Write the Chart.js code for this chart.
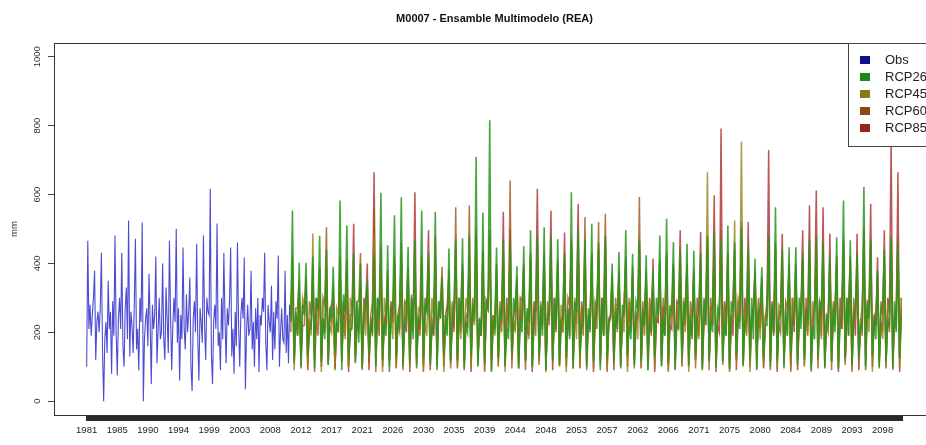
<!DOCTYPE html>
<html>
<head>
<meta charset="utf-8">
<title>M0007 - Ensamble Multimodelo (REA)</title>
<script src="https://cdn.jsdelivr.net/npm/chart.js@4.4.1/dist/chart.umd.min.js"></script>
<style>
  html, body { margin: 0; padding: 0; background: #fff; overflow: hidden; }
  #wrap { width: 926px; height: 445px; overflow: hidden; }
</style>
</head>
<body>
<div id="wrap"><canvas id="grafico" width="945" height="445"></canvas></div>
<script>
const titulo = 'M0007 - Ensamble Multimodelo (REA)';

// observado: 6 valores por año (1981-2010)
const obsStart = 1981, obsPerYear = 6;
const obs = [
  100,466,210,280,190,250, 300,379,120,230,260,200, 270,431,150,0,180,230, 140,350,210,260,80,290, 190,481,200,75,240,300,
  210,431,160,100,270,330, 180,525,130,260,220,140, 280,472,150,210,90,300, 230,519,0,180,240,270, 160,370,230,50,280,210,
  250,420,110,200,300,180, 200,400,180,120,330,240, 140,466,250,90,220,300, 230,501,170,270,60,250, 180,446,210,150,310,200,
  260,359,100,30,240,290, 200,457,180,60,270,230, 170,481,220,120,300,260, 250,617,140,50,230,280, 210,516,160,200,90,300,
  180,430,240,110,270,220, 290,446,130,210,80,260, 160,461,220,100,250,300, 240,417,35,200,280,190, 210,379,150,230,100,270,
  180,300,85,250,220,300, 260,431,170,90,280,230, 200,335,120,260,150,290, 240,423,100,200,270,180, 170,379,140,250,110,280
];

// escenarios: 4 valores por año (2011-2100)
const rcpStart = 2011, rcpPerYear = 4;
const rcp26 = [
  230,554,120,260, 190,402,100,280, 250,402,130,210, 210,420,95,300, 270,480,115,240,
  180,440,105,270, 240,390,140,230, 200,583,90,310, 260,510,125,200, 220,430,110,290,
  170,400,95,250, 280,350,135,220, 200,420,100,300, 240,605,120,230, 190,453,85,270,
  270,540,130,250, 210,592,100,220, 250,448,115,310, 180,470,95,240, 230,554,125,280,
  260,430,105,210, 200,550,90,290, 240,360,135,250, 190,443,110,230, 280,470,120,300,
  220,473,95,220, 200,480,130,270, 250,709,100,240, 190,548,115,290, 270,816,85,230,
  210,446,125,260, 240,470,105,210, 180,460,135,300, 260,392,95,240, 200,450,120,270,
  230,496,100,220, 270,480,130,280, 190,505,90,250, 250,480,115,300, 210,470,105,230,
  240,430,125,260, 180,607,95,290, 260,500,130,220, 220,470,100,270, 200,515,115,240,
  270,460,90,300, 190,480,125,230, 240,400,110,260, 210,433,95,280, 250,496,135,220,
  180,428,105,290, 270,470,120,250, 220,424,90,230, 200,380,130,300, 250,481,100,240,
  190,530,115,270, 260,462,95,220, 210,440,125,290, 240,457,105,250, 180,437,135,230,
  270,430,90,300, 220,480,120,240, 200,490,100,270, 250,470,115,220, 190,510,95,290,
  260,460,130,250, 210,500,105,230, 240,450,120,300, 180,414,90,260, 270,389,125,220,
  220,480,100,280, 200,563,115,240, 250,440,95,270, 190,447,135,230, 260,447,105,300,
  210,430,120,250, 240,470,90,220, 180,480,130,290, 270,460,100,240, 220,420,115,270,
  200,476,95,230, 250,583,125,300, 190,467,105,250, 260,430,120,220, 210,622,90,280,
  240,470,130,240, 180,380,100,270, 270,440,115,230, 220,480,95,290, 200,460,125,250
];
const rcp45 = [
  260,380,90,230, 210,330,120,300, 280,300,100,240, 190,487,130,260, 240,360,85,290,
  300,380,110,220, 200,320,95,270, 250,400,125,240, 180,350,100,300, 270,360,115,210,
  230,350,90,280, 190,300,130,250, 290,480,105,230, 210,420,85,300, 250,350,120,260,
  180,400,100,220, 280,430,130,290, 220,360,95,240, 200,400,115,270, 260,420,90,230,
  190,380,125,300, 240,390,105,250, 290,320,85,220, 210,350,120,280, 250,420,100,240,
  180,360,130,300, 270,400,95,260, 220,450,115,230, 200,400,90,290, 260,460,125,250,
  190,380,105,220, 280,400,85,280, 230,420,120,240, 200,330,100,300, 250,380,130,260,
  180,410,95,230, 270,420,115,290, 210,400,90,250, 240,410,125,220, 290,380,105,280,
  200,370,85,240, 260,440,120,300, 180,430,100,260, 250,420,130,230, 220,390,95,290,
  270,410,115,250, 190,430,90,220, 240,330,125,280, 280,360,105,240, 200,380,85,300,
  260,360,120,260, 180,430,100,230, 250,360,130,290, 210,340,95,250, 270,380,115,220,
  190,400,90,280, 240,370,125,240, 290,380,105,300, 200,370,85,260, 260,360,120,230,
  180,370,100,290, 250,665,130,250, 220,440,95,220, 270,450,115,280, 190,400,90,240,
  240,525,125,300, 280,753,105,260, 200,400,85,230, 260,350,120,290, 180,330,100,250,
  250,430,130,220, 210,420,95,280, 270,380,115,240, 190,370,90,300, 240,360,125,260,
  290,380,105,230, 200,400,85,290, 260,420,120,250, 180,410,100,220, 250,370,130,280,
  220,380,95,240, 270,420,115,300, 190,380,90,260, 240,380,125,230, 280,440,105,290,
  200,420,85,250, 260,340,120,220, 180,390,100,280, 250,420,130,240, 210,430,95,300
];
const rcp60 = [
  200,420,130,270, 270,350,95,220, 220,360,115,290, 250,400,85,240, 190,390,125,300,
  280,505,105,250, 230,340,90,230, 200,420,120,280, 260,410,100,210, 210,380,135,290,
  290,430,95,250, 240,330,110,230, 190,560,85,300, 270,400,125,240, 220,380,100,270,
  250,420,120,220, 200,460,90,290, 280,390,130,250, 230,430,105,230, 190,380,85,300,
  260,400,120,240, 210,480,100,270, 290,390,130,220, 240,380,95,290, 200,563,115,250,
  270,400,90,230, 220,568,125,300, 250,480,105,240, 190,430,85,270, 280,500,120,220,
  230,360,100,290, 200,420,130,250, 260,641,95,230, 210,360,115,300, 290,400,90,240,
  240,420,125,270, 190,450,105,220, 270,430,85,290, 220,440,120,250, 250,400,100,230,
  200,410,130,300, 280,460,95,240, 230,450,115,270, 190,535,90,220, 260,420,125,290,
  210,520,105,250, 290,544,85,230, 240,370,120,300, 200,380,100,240, 270,420,130,270,
  220,390,95,220, 250,593,115,290, 190,380,90,250, 280,360,125,230, 230,410,105,300,
  200,430,85,240, 260,400,120,270, 210,410,100,220, 290,390,130,290, 240,380,95,250,
  190,400,115,230, 270,470,90,300, 220,460,125,240, 250,500,105,270, 200,420,85,220,
  280,440,120,290, 230,520,100,250, 190,430,130,230, 260,370,95,300, 210,350,115,240,
  290,470,90,270, 240,440,125,220, 200,410,105,290, 270,390,85,250, 220,400,120,230,
  250,410,100,300, 190,440,130,240, 280,450,95,270, 230,440,115,220, 200,400,90,290,
  260,400,125,250, 210,450,105,230, 290,400,85,300, 240,410,120,240, 190,470,100,270,
  270,450,130,220, 220,370,95,290, 250,420,115,250, 200,460,90,230, 280,470,125,300
];
const rcp85 = [
  240,360,110,250, 190,300,130,280, 270,340,90,230, 220,350,120,300, 260,330,100,240,
  200,360,135,270, 280,300,95,220, 230,380,115,290, 190,390,85,250, 250,515,125,230,
  210,330,105,300, 270,400,90,240, 220,665,130,270, 190,450,100,220, 260,360,120,290,
  230,390,95,250, 280,410,115,230, 200,340,85,300, 250,607,125,240, 210,400,105,270,
  270,496,90,220, 190,420,130,290, 240,340,100,250, 280,360,120,230, 220,440,95,300,
  200,380,115,240, 260,420,85,270, 230,500,125,220, 190,440,105,290, 270,480,90,250,
  210,400,130,230, 250,550,100,300, 200,500,120,240, 280,350,95,270, 230,390,115,220,
  190,430,85,290, 260,617,125,250, 220,420,105,230, 270,554,90,300, 200,410,130,240,
  240,490,100,270, 190,470,120,220, 280,573,95,290, 230,450,115,250, 210,430,85,230,
  260,440,125,300, 190,460,105,240, 250,350,90,270, 220,370,130,220, 280,400,100,290,
  200,370,120,250, 240,450,95,230, 270,370,115,300, 190,414,85,240, 230,400,125,270,
  260,420,105,220, 210,390,90,290, 280,496,130,250, 220,400,100,230, 190,370,120,300,
  250,491,95,240, 230,450,115,270, 270,598,85,220, 200,792,125,290, 240,430,105,250,
  190,420,90,230, 260,480,130,300, 220,520,100,240, 280,380,120,270, 210,360,95,220,
  250,729,115,290, 190,460,85,250, 270,486,125,230, 230,400,105,300, 200,390,90,240,
  260,496,130,270, 220,568,100,220, 280,612,120,290, 190,563,95,250, 240,486,115,230,
  270,420,85,300, 210,470,125,240, 250,420,105,270, 190,486,90,220, 230,500,130,290,
  280,573,100,250, 220,418,120,230, 200,496,95,300, 260,758,115,240, 230,665,85,270
];

const seriesNames = ['Obs', 'RCP26', 'RCP45', 'RCP60', 'RCP85'];
const xTickLabels = ['1981','1985','1990','1994','1999','2003','2008','2012','2017','2021','2026','2030','2035','2039',
  '2044','2048','2053','2057','2062','2066','2071','2075','2080','2084','2089','2093','2098'];
const yTicks = [0, 200, 400, 600, 800, 1000];

const lineColors = ['rgba(30,30,200,0.8)', 'rgba(40,150,30,0.85)', 'rgba(150,130,20,0.8)', 'rgba(160,85,25,0.8)', 'rgba(170,45,45,0.8)'];
const lineWidths = [1.1, 1.6, 1.5, 1.5, 1.5];
const legendColors = ['#10108a', '#1b8a1b', '#8a7a14', '#8a4a10', '#9a2424'];

const fuente = '"Liberation Sans", Arial, sans-serif';
const totalMeses = 1440; // ene 1981 - dic 2100

function puntos(valores, inicio, porAnio) {
  return valores.map(function(v, i) { return { x: inicio + i / porAnio, y: v }; });
}

const marco = {
  id: 'marco',
  afterDraw: function(chart) {
    const ctx = chart.ctx, a = chart.chartArea;
    ctx.save();
    // caja del grafico
    ctx.strokeStyle = '#333';
    ctx.lineWidth = 1;
    ctx.strokeRect(Math.round(a.left) + 0.5, Math.round(a.top) + 0.5, Math.round(a.right - a.left), Math.round(a.bottom - a.top));

    // titulo
    ctx.fillStyle = '#111';
    ctx.font = 'bold 11px ' + fuente;
    ctx.textAlign = 'center';
    ctx.textBaseline = 'middle';
    ctx.fillText(titulo, (a.left + a.right) / 2, 19);

    // etiquetas eje y (rotadas)
    const ys = chart.scales.y;
    ctx.font = '9.5px ' + fuente;
    ctx.fillStyle = '#333';
    yTicks.forEach(function(t) {
      ctx.save();
      ctx.translate(37, ys.getPixelForValue(t));
      ctx.rotate(-Math.PI / 2);
      ctx.fillText(String(t), 0, 0);
      ctx.restore();
    });

    // leyenda
    const lx = Math.round(a.right) - 87, ly = Math.round(a.top);
    ctx.fillStyle = '#fff';
    ctx.fillRect(lx, ly, a.right - lx, 103);
    ctx.strokeStyle = '#444';
    ctx.strokeRect(lx + 0.5, ly + 0.5, a.right - lx, 103);
    ctx.font = '13px ' + fuente;
    ctx.textAlign = 'left';
    seriesNames.forEach(function(n, i) {
      ctx.fillStyle = legendColors[i];
      ctx.fillRect(lx + 12, ly + 13 + 17 * i, 10, 8);
      ctx.fillStyle = '#222';
      ctx.fillText(n, lx + 37, ly + 17 + 17 * i);
    });
    ctx.restore();
  }
};

const series = [
  puntos(obs, obsStart, obsPerYear),
  puntos(rcp26, rcpStart, rcpPerYear),
  puntos(rcp45, rcpStart, rcpPerYear),
  puntos(rcp60, rcpStart, rcpPerYear),
  puntos(rcp85, rcpStart, rcpPerYear)
];

new Chart(document.getElementById('grafico'), {
  type: 'line',
  data: {
    datasets: series.map(function(d, i) {
      return { label: seriesNames[i], data: d, borderColor: lineColors[i], borderWidth: lineWidths[i], pointRadius: 0, fill: false, tension: 0 };
    })
  },
  options: {
    responsive: false,
    animation: false,
    devicePixelRatio: 1,
    layout: { padding: { top: 43, right: 10, left: 0, bottom: 0 } },
    plugins: { legend: { display: false }, title: { display: false }, tooltip: { enabled: false } },
    scales: {
      x: {
        type: 'linear',
        min: 1976.2,
        max: 2105.7,
        afterBuildTicks: function(scale) {
          const t = [];
          for (let m = 0; m < totalMeses; m++) t.push({ value: obsStart + m / 12 });
          scale.ticks = t;
        },
        afterFit: function(scale) { scale.height = 30; },
        grid: { drawOnChartArea: false, drawTicks: true, tickLength: 6, color: '#2a2a2a', lineWidth: 1 },
        border: { display: false },
        ticks: {
          autoSkip: false, maxRotation: 0, minRotation: 0, padding: 4, color: '#222',
          font: { size: 9.5, family: fuente },
          callback: function(v, i) { return i % 54 === 0 ? xTickLabels[i / 54] : ''; }
        }
      },
      y: {
        min: -40,
        max: 1040,
        afterBuildTicks: function(scale) { scale.ticks = yTicks.map(function(v) { return { value: v }; }); },
        afterFit: function(scale) { scale.width = 54; },
        grid: { drawOnChartArea: false, drawTicks: true, tickLength: 6, color: '#444' },
        border: { display: false },
        ticks: { callback: function() { return ''; } },
        title: { display: true, text: 'mm', color: '#333', font: { size: 9.5, family: fuente }, padding: { top: 9, bottom: 0 } }
      }
    }
  },
  plugins: [marco]
});
</script>
</body>
</html>
